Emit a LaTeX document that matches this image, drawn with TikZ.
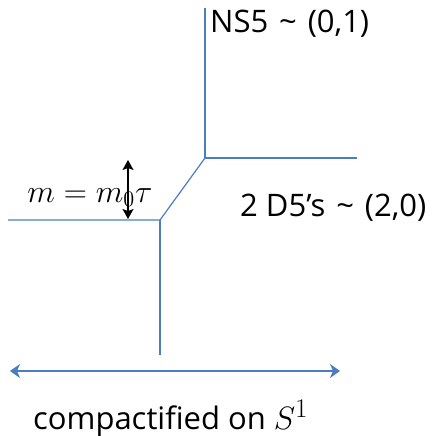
\documentclass[tikz,border=0pt]{standalone}
\usepackage{fontspec}
\setmainfont{Open Sans}
\usetikzlibrary{arrows.meta}
\newcommand{\tld}{\hspace{0.35em}\textasciitilde\hspace{0.35em}}
\begin{document}
\begin{tikzpicture}[x=1pt,y=-1pt,
  brane/.style={line width=1.2pt, color={rgb,255:red,74;green,126;blue,193}},
  lab/.style={font=\fontsize{31}{36}\selectfont, inner sep=0pt},
  mathlab/.style={font=\fontsize{20.74}{24}\selectfont, inner sep=0pt, scale=1.55}]
\useasboundingbox (0,0) rectangle (436,436);
\coordinate (ntop) at (205,8);
\coordinate (a) at (205,158);
\coordinate (rend) at (357,158);
\coordinate (b) at (160,220);
\coordinate (lend) at (8,220);
\coordinate (bend) at (160,355);
\draw[brane] (ntop) -- (a) -- (rend);
\draw[brane] (a) -- (b) -- (lend);
\draw[brane] (b) -- (bend);
\coordinate (cl) at (10,371);
\coordinate (cr) at (340,371);
\draw[brane, {Stealth[length=10pt,width=14pt,inset=3pt]}-{Stealth[length=10pt,width=14pt,inset=3pt]}] (cl) -- (cr);
\node[lab, anchor=base west] (ns5) at (210,33) {NS5\tld(0,1)};
\node[lab, anchor=base west] (d5) at (240,216) {2 D5’s\tld(2,0)};
\node[mathlab, anchor=base west] (mm) at (27,202) {$m = m_0\tau$};
\node[lab, anchor=base west] (comp) at (33,429) {compactified on \scalebox{1.3}{$S^1$}};
\coordinate (mt) at (128,160);
\coordinate (mb) at (128,219);
\draw[line width=1.3pt, {Stealth[length=10pt,width=11pt,inset=2pt]}-{Stealth[length=10pt,width=11pt,inset=2pt]}] (mt) -- (mb);
\end{tikzpicture}
\end{document}
